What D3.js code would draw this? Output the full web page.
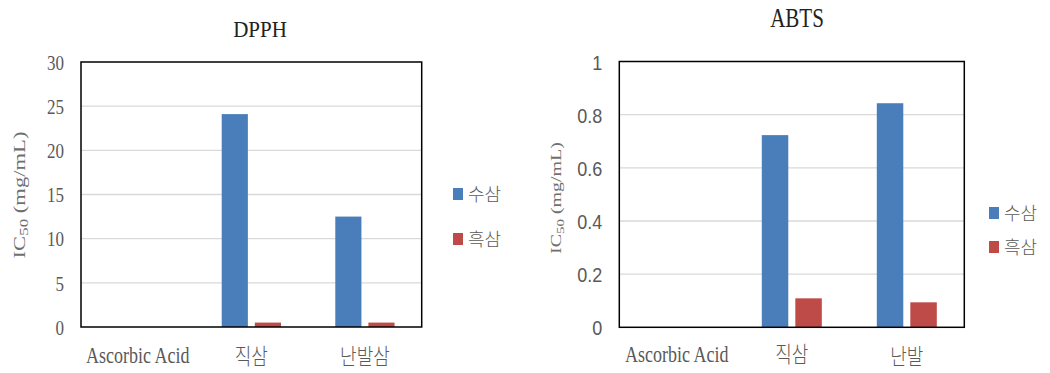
<!DOCTYPE html>
<html>
<head>
<meta charset="utf-8">
<script src="https://cdn.jsdelivr.net/npm/d3@7"></script>
<style>
  body { margin: 0; background: #fff; }
  svg { display: block; }
</style>
</head>
<body>
<div id="chart"></div>
<script>
// categories and series
const categoriesDPPH = ["Ascorbic Acid", "직삼", "난발삼"];
const categoriesABTS = ["Ascorbic Acid", "직삼", "난발"];
const seriesNames = ["수삼", "흑삼"];

// IC50 values (mg/mL)
const dpphSusam = [0, 24.1, 12.5];
const dpphHeuksam = [0, 0.5, 0.5];
const abtsSusam = [0, 0.723, 0.843];
const abtsHeuksam = [0, 0.109, 0.094];

// tick values
const dpphTicks = [0, 5, 10, 15, 20, 25, 30];
const abtsTicks = [0, 0.2, 0.4, 0.6, 0.8, 1];

const width = 1050;
const height = 373;

const color = d3.scaleOrdinal()
  .domain(seriesNames)
  .range(["#4A7EBB", "#BE4B48"]);

const svg = d3.select("#chart")
  .append("svg")
    .attr("width", width)
    .attr("height", height);

// the source image is stretched vertically, so text gets a y-scale
const isKorean = s => /[가-힣]/.test(s);

function drawChart(opt) {
  const g = svg.append("g");

  const x0 = d3.scaleBand()
    .domain(opt.categories)
    .range([opt.left, opt.right])
    .padding(0);

  const x1 = d3.scaleBand()
    .domain(seriesNames)
    .range([0, x0.bandwidth()])
    .paddingInner(0.21)
    .paddingOuter(0.82);

  const y = d3.scaleLinear()
    .domain([0, opt.max])
    .range([opt.bottom, opt.top]);

  // gridlines
  g.append("g")
    .selectAll("line")
    .data(opt.ticks.filter(d => d > 0 && d < opt.max))
    .join("line")
      .attr("x1", opt.left)
      .attr("x2", opt.right)
      .attr("y1", d => y(d))
      .attr("y2", d => y(d))
      .attr("stroke", "#d9d9d9")
      .attr("stroke-width", 1.3);

  // bars
  const rows = opt.categories.map((c, i) => ({
    cat: c,
    vals: [
      { key: seriesNames[0], value: opt.a[i] },
      { key: seriesNames[1], value: opt.b[i] }
    ]
  }));

  g.append("g")
    .selectAll("g")
    .data(rows)
    .join("g")
      .attr("transform", d => `translate(${x0(d.cat)},0)`)
    .selectAll("rect")
    .data(d => d.vals)
    .join("rect")
      .attr("x", d => x1(d.key))
      .attr("width", x1.bandwidth())
      .attr("y", d => y(d.value))
      .attr("height", d => y(0) - y(d.value))
      .attr("fill", d => color(d.key));

  // plot frame
  g.append("rect")
    .attr("x", opt.left)
    .attr("y", opt.top)
    .attr("width", opt.right - opt.left)
    .attr("height", opt.bottom - opt.top)
    .attr("fill", "none")
    .attr("stroke", "#000")
    .attr("stroke-width", 1.5);

  // y axis labels
  const yAxis = g.append("g")
    .attr("transform", `translate(${opt.left},0)`)
    .call(d3.axisLeft(y).tickValues(opt.ticks).tickSize(0).tickPadding(17)
      .tickFormat(d3.format("~g")));
  yAxis.select(".domain").remove();
  yAxis.selectAll(".tick text")
    .attr("x", null)
    .attr("dy", null)
    .attr("y", opt.tickDy)
    .attr("transform", `translate(-17,0) scale(1,${opt.tickStretch})`)
    .attr("fill", "#595959")
    .style("font-family", opt.tickFont)
    .style("font-size", opt.tickSize + "px");

  // x axis labels
  g.append("g")
    .selectAll("text")
    .data(opt.categories)
    .join("text")
      .attr("transform", (d, i) => `translate(${x0(d) + x0.bandwidth() / 2},${opt.xLabelY[i]}) scale(1,${isKorean(d) ? 1.18 : 1.3})`)
      .attr("text-anchor", "middle")
      .attr("fill", "#595959")
      .style("font-family", d => isKorean(d) ? "'Noto Sans CJK KR'" : "'Liberation Serif'")
      .style("font-size", "18px")
      .style("font-weight", d => isKorean(d) ? 300 : 400)
      .text(d => d);

  // title
  g.append("text")
    .attr("transform", `translate(${opt.titleX},${opt.titleY}) scale(1,${opt.titleStretch})`)
    .attr("text-anchor", "middle")
    .attr("fill", "#222")
    .style("font-family", "'Liberation Serif'")
    .style("font-size", "21px")
    .text(opt.title);

  // y axis title: IC50 (mg/mL)
  const yt = g.append("text")
    .attr("transform", `translate(${opt.yLabelX},${opt.yLabelY}) scale(1,1.33) rotate(-90)`)
    .attr("text-anchor", "middle")
    .attr("fill", "#6f6f6f")
    .style("font-family", "'Liberation Serif'")
    .style("font-size", opt.yLabelSize + "px");
  yt.append("tspan").text("IC");
  yt.append("tspan").attr("dy", 3).style("font-size", (opt.yLabelSize * 0.75) + "px").text("50");
  yt.append("tspan").attr("dy", -3).text(" (mg/mL)");

  // legend
  const lg = g.append("g")
    .selectAll("g")
    .data(seriesNames)
    .join("g")
      .attr("transform", (d, i) => `translate(${opt.legendX},${opt.legendY + i * opt.legendGap})`);
  lg.append("rect")
    .attr("x", 0)
    .attr("y", -6)
    .attr("width", 10)
    .attr("height", 12)
    .attr("fill", d => color(d));
  lg.append("text")
    .attr("x", 15)
    .attr("y", 7)
    .attr("fill", "#595959")
    .style("font-family", "'Noto Sans CJK KR'")
    .style("font-size", "18px")
    .style("font-weight", 300)
    .text(d => d);
}

drawChart({
  title: "DPPH",
  categories: categoriesDPPH,
  a: dpphSusam,
  b: dpphHeuksam,
  ticks: dpphTicks,
  max: 30,
  left: 81, right: 421.7, top: 62, bottom: 327,
  tickFont: "'Liberation Serif'", tickSize: 17, tickStretch: 1.2, tickDy: 6,
  xLabelY: [363, 364, 364],
  titleX: 260, titleY: 37, titleStretch: 1.1,
  yLabelX: 25, yLabelY: 195, yLabelSize: 17,
  legendX: 453, legendY: 194, legendGap: 45
});

drawChart({
  title: "ABTS",
  categories: categoriesABTS,
  a: abtsSusam,
  b: abtsHeuksam,
  ticks: abtsTicks,
  max: 1,
  left: 619.3, right: 964.3, top: 61.5, bottom: 327.3,
  tickFont: "'Liberation Sans'", tickSize: 18, tickStretch: 1.08, tickDy: 7,
  xLabelY: [362, 362, 364],
  titleX: 797, titleY: 27, titleStretch: 1.25,
  yLabelX: 561, yLabelY: 198, yLabelSize: 15,
  legendX: 989, legendY: 213, legendGap: 34
});
</script>
</body>
</html>
